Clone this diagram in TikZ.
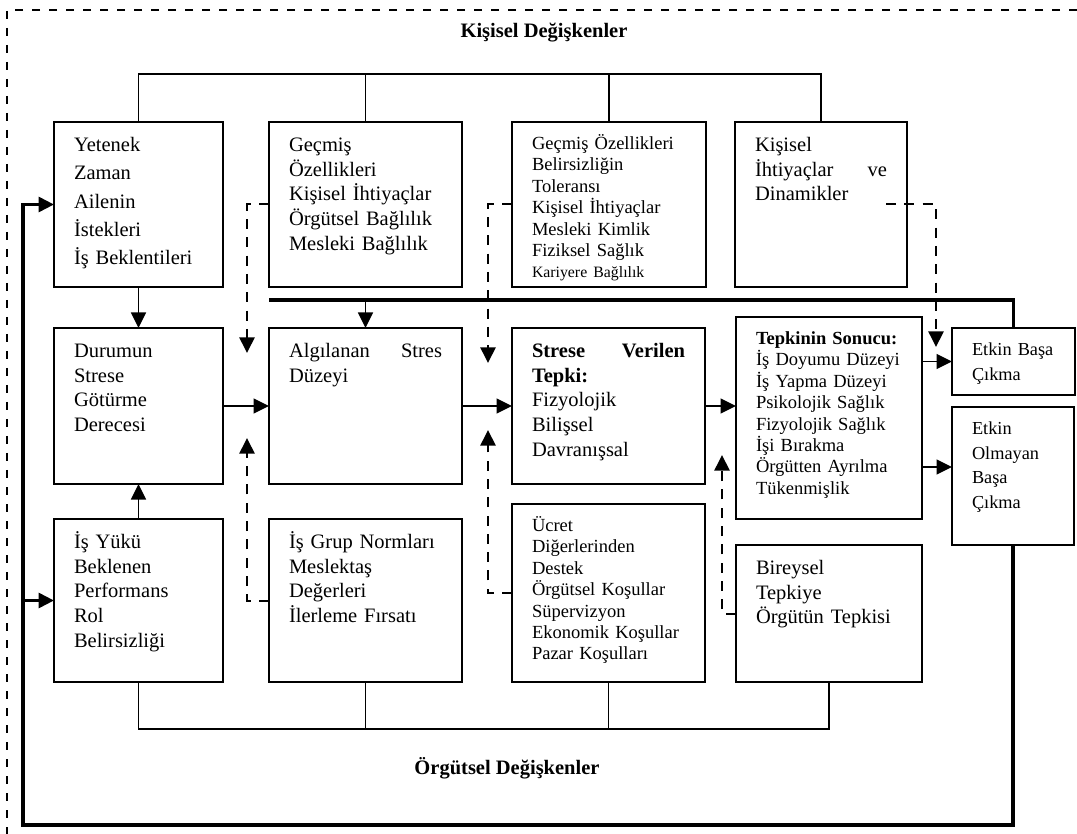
\documentclass[tikz,border=0pt]{standalone}
\usepackage{fontspec}
\setmainfont{Liberation Serif}
\usetikzlibrary{arrows.meta}

\newcommand{\bigtxt}{\fontsize{20.5}{24.7}\selectfont}
\newcommand{\smalltxt}{\fontsize{18.5}{21.4}\selectfont}

\begin{document}
\begin{tikzpicture}[x=1pt, y=-1pt,
  box/.style 2 args={draw, line width=1.6pt, anchor=north west, outer sep=0pt,
    inner xsep=20pt, inner ysep=0pt, align=left, font=\bigtxt,
    text width=#1-40pt, text height=29.5pt, text depth=#2-29.5pt},
  sbox/.style 2 args={box={#1}{#2}, font=\smalltxt, text height=27.5pt, text depth=#2-27.5pt},
  link/.style={line width=1.7pt},
  heavy/.style={line width=3.2pt},
  tip/.style={-{Triangle[length=15.5pt,width=15pt]}},
  dline/.style={line width=2pt, dash pattern=on 10pt off 8.3pt},
  title/.style={font=\bigtxt\bfseries}]

\useasboundingbox (0,0) rectangle (1077,834);

% outer frame
\draw[line width=1.4pt, dash pattern=on 8pt off 9pt] (1077,10) -- (7,10) -- (7,834);

\node[title] (kisisel) at (544,33) {Kişisel Değişkenler};
\node[title] (orgutsel) at (507,768) {Örgütsel Değişkenler};

% top row
\node[box={169}{165}, font=\fontsize{20.5}{28.3}\selectfont] (yetenek) at (54,122)
  {Yetenek\\Zaman\\Ailenin\\İstekleri\\İş Beklentileri};
\node[box={193}{165}] (gecmis) at (269,122)
  {Geçmiş\\Özellikleri\\Kişisel İhtiyaçlar\\Örgütsel Bağlılık\\Mesleki Bağlılık};
\node[sbox={194}{165}] (belirsiz) at (512,122)
  {Geçmiş Özellikleri\\Belirsizliğin\\Toleransı\\Kişisel İhtiyaçlar\\Mesleki Kimlik\\Fiziksel Sağlık\\{\fontsize{15.8}{19}\selectfont Kariyere Bağlılık}};
\node[box={172}{165}] (dinamik) at (735,122)
  {Kişisel\\İhtiyaçlar\hfill ve\\Dinamikler};

% middle row
\node[box={169}{156}] (durum) at (54,328) {Durumun\\Strese\\Götürme\\Derecesi};
\node[box={193}{156}] (algi) at (269,328) {Algılanan\hfill Stres\\Düzeyi};
\node[box={193}{156}] (tepki) at (512,328)
  {\textbf{Strese\hfill Verilen}\\\textbf{Tepki:}\\Fizyolojik\\Bilişsel\\Davranışsal};
\node[sbox={186}{202}] (sonuc) at (736,317)
  {\textbf{Tepkinin Sonucu:}\\İş Doyumu Düzeyi\\İş Yapma Düzeyi\\Psikolojik Sağlık\\Fizyolojik Sağlık\\İşi Bırakma\\Örgütten Ayrılma\\Tükenmişlik};
\node[sbox={123}{67}, font=\fontsize{18.3}{25}\selectfont] (etkin) at (952,328) {Etkin Başa\\Çıkma};
\node[sbox={122}{138}, font=\fontsize{18.3}{24.7}\selectfont] (etkinsiz) at (952,407)
  {Etkin\\Olmayan\\Başa\\Çıkma};

% bottom row
\node[box={169}{163}] (isyuku) at (54,519) {İş Yükü\\Beklenen\\Performans\\Rol\\Belirsizliği};
\node[box={193}{163}] (grup) at (269,519) {İş Grup Normları\\Meslektaş\\Değerleri\\İlerleme Fırsatı};
\node[sbox={193}{178}] (ucret) at (512,504)
  {Ücret\\Diğerlerinden\\Destek\\Örgütsel Koşullar\\Süpervizyon\\Ekonomik Koşullar\\Pazar Koşulları};
\node[box={186}{137}] (bireysel) at (736,545) {Bireysel\\Tepkiye\\Örgütün Tepkisi};

% brackets
\coordinate (ktop) at (0,74);
\coordinate (obot) at (0,729);
\draw[link] (yetenek.north) |- (ktop -| dinamik.north) -- (dinamik.north);
\draw[link] (isyuku.south) |- (obot -| bireysel.south) -- (bireysel.south);
\foreach \n in {gecmis, belirsiz}
  \draw[link] (\n.north) -- (\n.north |- ktop);
\foreach \n in {grup, ucret}
  \draw[link] (\n.south) -- (\n.south |- obot);

% main flow
\draw[link, tip] (yetenek.south) -- (durum.north);
\draw[link, tip] (isyuku.north) -- (durum.south);
\draw[link, tip] (durum.east) -- (algi.west);
\draw[link, tip] (algi.east) -- (tepki.west);
\draw[link, tip] (tepki.east) -- (tepki.east -| sonuc.west);
\draw[link, tip] (etkin.west -| sonuc.east) -- (etkin.west);
\coordinate (e2) at ([yshift=9pt]etkinsiz.west);
\draw[link, tip] (e2 -| sonuc.east) -- (e2);

% feedback
\coordinate (hbar) at (0,300);
\coordinate (loop) at (23,825);
\draw[heavy] (algi.north west |- hbar) -| (etkin.north);
\draw[link, tip] (algi.north |- hbar) -- (algi.north);
\draw[heavy, tip] (etkinsiz.south) |- (loop) |- (yetenek.west);
\draw[heavy, tip] (loop |- isyuku.west) -- (isyuku.west);

% moderators
\coordinate (m1) at (247,353);
\coordinate (m2) at (247,438);
\coordinate (m3) at (488,363);
\coordinate (m4) at (488,430);
\coordinate (m5) at (722,455);
\coordinate (m6) at (936,347);
\draw[dline, tip] (gecmis.west) -| (m1);
\draw[dline, tip] (grup.west) -| (m2);
\draw[dline, tip] (belirsiz.west) -| (m3);
\draw[dline, tip] (ucret.west) -| (m4);
\draw[dline, tip] (bireysel.west) -| (m5);
\draw[dline, tip] ([xshift=-21pt]dinamik.east) -| (m6);
\end{tikzpicture}
\end{document}
